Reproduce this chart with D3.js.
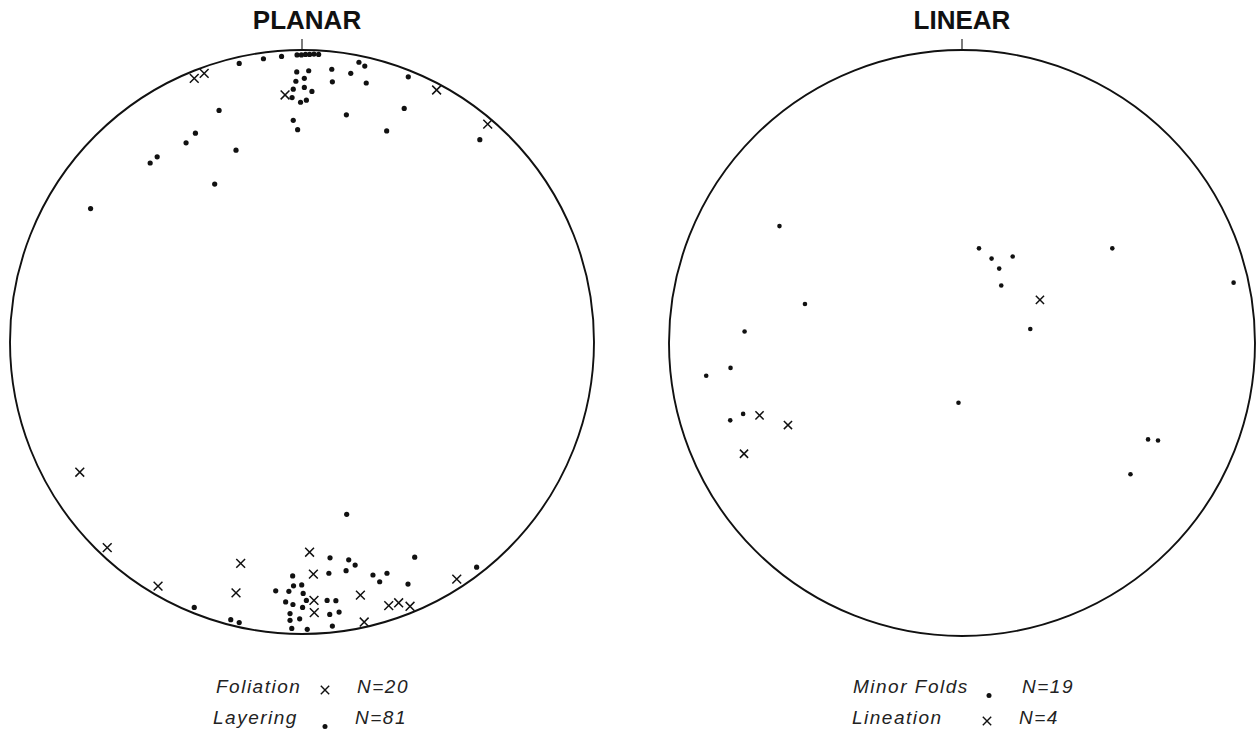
<!DOCTYPE html>
<html>
<head>
<meta charset="utf-8">
<script src="https://cdn.jsdelivr.net/npm/d3@7"></script>
<style>
  html, body { margin: 0; padding: 0; background: #fff; }
  svg { display: block; }
</style>
</head>
<body>
<svg id="chart" width="1258" height="732"></svg>
<script>
// ---- DATA (projection coordinates, unit circle radius = 100; u = east, v = north) ----
const panelTitles = ["PLANAR", "LINEAR"];

// PLANAR net: Layering (dots)
const planarLayering = [
  [-21.5,95.4],[-13.2,97.0],[-7.0,97.8],
  [-1.7,98.3],[-0.2,98.3],[1.2,98.5],[2.6,98.5],[4.1,98.6],[5.7,98.5],
  [-1.8,92.5],[2.3,92.9],[-2.1,89.3],[0.8,90.3],[-3.0,86.6],[0.8,87.2],[3.4,85.8],
  [-3.4,83.7],[-0.5,82.1],[1.5,82.8],[-3.0,75.9],[-1.5,72.7],
  [-28.4,79.3],[-36.5,71.5],[-39.7,68.2],[-22.6,65.7],[-49.6,63.4],[-52.0,61.3],
  [-29.9,54.1],[-72.4,45.7],
  [10.2,93.4],[10.4,89.1],[16.7,92.0],[19.5,95.8],[21.5,94.5],[22.0,88.7],
  [15.2,77.8],[29.0,72.3],[35.0,80.0],[36.4,90.8],[60.9,69.3],
  [-36.9,-90.9],[-24.4,-95.1],[-21.5,-96.1],
  [-3.2,-80.1],[-2.9,-83.5],[-0.1,-83.2],[-9.0,-85.2],[-4.5,-85.4],[0.4,-86.1],
  [-5.6,-89.0],[-3.1,-89.9],[1.5,-88.5],[0.2,-90.9],[-4.1,-93.0],[-4.1,-95.3],
  [-0.8,-94.8],[-3.5,-98.1],[1.8,-98.4],
  [15.3,-59.0],[9.6,-73.9],[16.0,-74.6],[18.2,-76.4],[15.1,-78.3],[9.2,-79.2],
  [38.6,-73.7],[59.8,-77.1],[24.3,-79.8],[29.1,-79.2],[26.6,-82.1],[36.3,-82.9],
  [8.6,-88.5],[11.6,-88.6],[9.5,-93.3],[12.7,-92.5],[10.4,-97.3]
];

// PLANAR net: Foliation (crosses)
const planarFoliation = [
  [-36.9,90.3],[-33.5,92.0],[-5.8,84.6],[46.1,86.3],[63.6,74.6],
  [-76.1,-44.6],[-66.7,-70.4],[-49.3,-83.6],[-21.0,-75.8],[-22.6,-85.9],
  [2.6,-72.0],[3.9,-79.5],[4.1,-88.5],[4.2,-92.7],[20.0,-86.7],
  [21.3,-95.9],[29.7,-90.3],[33.1,-89.3],[37.0,-90.5],[53.0,-81.2]
];

// LINEAR net: Minor folds (dots)
const linearMinorFolds = [
  [-62.3,39.9],[5.8,32.3],[10.1,28.8],[17.3,29.5],[12.7,25.4],[13.4,19.6],
  [51.3,32.3],[92.7,20.6],[-53.6,13.3],[-74.2,3.9],[23.3,4.8],
  [-79.0,-8.5],[-87.3,-11.2],[-1.2,-20.4],[-79.1,-26.4],[-74.7,-24.2],
  [63.5,-32.9],[66.9,-33.3],[57.5,-44.8]
];

// LINEAR net: Lineation (crosses)
const linearLineation = [
  [26.6,14.7],[-69.1,-24.7],[-59.4,-28.0],[-74.4,-37.8]
];

// Legend labels
const planarLegendNames = ["Foliation", "Layering"];
const planarLegendCounts = ["N=20", "N=81"];
const linearLegendNames = ["Minor Folds", "Lineation"];
const linearLegendCounts = ["N=19", "N=4"];

// ---- DRAWING ----
const svg = d3.select("#chart");
const ink = "#111";

const panels = [
  { title: panelTitles[0], cx: 302, cy: 342, r: 292, titleX: 307,
    dots: planarLayering, crosses: planarFoliation, dotR: 2.6, crossA: 4.4,
    legend: { names: planarLegendNames, counts: planarLegendCounts,
              nameX: [216, 213], symX: [325, 325], countX: [357, 355],
              symbols: ["x", "dot"] } },
  { title: panelTitles[1], cx: 962, cy: 343, r: 293, titleX: 962,
    dots: linearMinorFolds, crosses: linearLineation, dotR: 2.3, crossA: 4.1,
    legend: { names: linearLegendNames, counts: linearLegendCounts,
              nameX: [853, 852], symX: [989, 987], countX: [1022, 1019],
              symbols: ["dot", "x"] } }
];

function crossPath(x, y, a) {
  return `M${x - a},${y - a}L${x + a},${y + a}M${x - a},${y + a}L${x + a},${y - a}`;
}

const legendRows = [693, 724];

panels.forEach(p => {
  const xs = d3.scaleLinear().domain([-100, 100]).range([p.cx - p.r, p.cx + p.r]);
  const ys = d3.scaleLinear().domain([-100, 100]).range([p.cy + p.r, p.cy - p.r]);
  const g = svg.append("g");

  // primitive circle
  g.append("circle")
    .attr("cx", xs(0)).attr("cy", ys(0))
    .attr("r", xs(100) - xs(0))
    .attr("fill", "none").attr("stroke", ink).attr("stroke-width", 1.9);

  // north tick
  g.append("line")
    .attr("x1", xs(0)).attr("x2", xs(0))
    .attr("y1", ys(100)).attr("y2", ys(100) - 11)
    .attr("stroke", ink).attr("stroke-width", 1.1);

  // title
  g.append("text")
    .attr("x", p.titleX).attr("y", 28.5)
    .attr("text-anchor", "middle")
    .attr("font-family", "'Liberation Sans', Arial, Helvetica, sans-serif")
    .attr("font-weight", "bold").attr("font-size", 26)
    .attr("fill", ink)
    .text(p.title);

  // dots
  g.selectAll("circle.pt").data(p.dots).join("circle")
    .attr("class", "pt")
    .attr("cx", d => xs(d[0])).attr("cy", d => ys(d[1]))
    .attr("r", p.dotR).attr("fill", ink);

  // crosses
  g.selectAll("path.x").data(p.crosses).join("path")
    .attr("class", "x")
    .attr("d", d => crossPath(xs(d[0]), ys(d[1]), p.crossA))
    .attr("stroke", ink).attr("stroke-width", 1.5).attr("fill", "none");

  // legend
  const L = p.legend;
  L.names.forEach((name, i) => {
    const y = legendRows[i];
    const t = { "font-family": "'Liberation Sans', Arial, Helvetica, sans-serif",
                "font-style": "italic", "font-size": 19, "letter-spacing": 1.5 };
    const nt = g.append("text").attr("x", L.nameX[i]).attr("y", y).attr("fill", "#222").text(name);
    const ct = g.append("text").attr("x", L.countX[i]).attr("y", y).attr("fill", "#222").text(L.counts[i]);
    Object.entries(t).forEach(([k, v]) => { nt.attr(k, v); ct.attr(k, v); });
    if (L.symbols[i] === "x") {
      g.append("path").attr("d", crossPath(L.symX[i], y - 3, 4.2))
        .attr("stroke", ink).attr("stroke-width", 1.4).attr("fill", "none");
    } else {
      g.append("circle").attr("cx", L.symX[i]).attr("cy", y + 2.5).attr("r", 2.5).attr("fill", ink);
    }
  });
});
</script>
</body>
</html>
